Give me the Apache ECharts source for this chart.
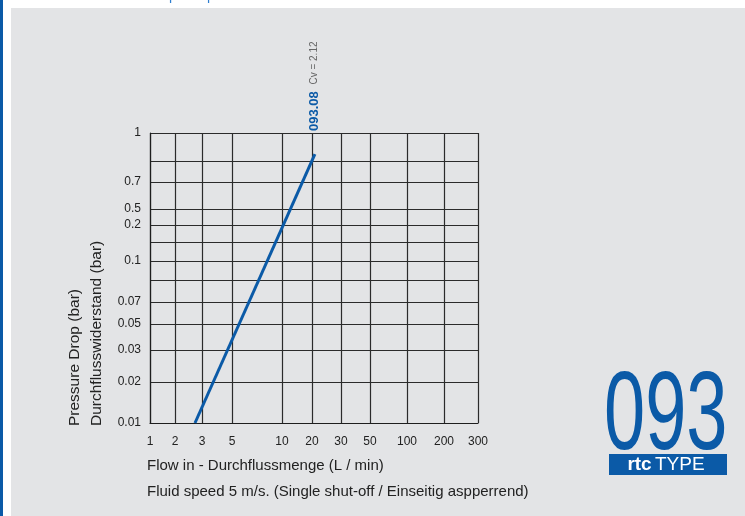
<!DOCTYPE html>
<html>
<head>
<meta charset="utf-8">
<script src="https://cdn.jsdelivr.net/npm/echarts@6/dist/echarts.min.js"></script>
<style>
html,body{margin:0;padding:0;background:#fff;}
#c{width:745px;height:516px;}
</style>
</head>
<body>
<div id="c"></div>
<script>
// Tick labels and their positions along each (irregularly spaced) axis
const xTickLabels = ['1','2','3','5','10','20','30','50','100','200','300'];
const xTickPos = [0,25,52,82,132,162,191,220,257,294,328];
const yTickLabels = ['0.01','0.02','0.03','0.05','0.07','0.1','0.2','0.5','0.7','1'];
const yTickPos = [0,41,73,99,121,162,198,214,241,290];
const yExtraGridPos = [143,181,262];

// Series 093.08 (Cv = 2.12): flow (L/min) vs pressure drop (bar)
const flow = [2.74, 21];
const pressureDrop = [0.01, 0.87];

const BLUE = '#0b5aa7';

function interp(v, labels, pos) {
  const vals = labels.map(Number);
  for (let i = 0; i < vals.length - 1; i++) {
    if (v >= vals[i] && v <= vals[i + 1]) {
      return pos[i] + (v - vals[i]) / (vals[i + 1] - vals[i]) * (pos[i + 1] - pos[i]);
    }
  }
  return v < vals[0] ? pos[0] : pos[pos.length - 1];
}
function labelAt(p, labels, pos) {
  const i = pos.indexOf(p);
  return i >= 0 ? labels[i] : '';
}

const lineData = flow.map((f, i) => [
  interp(f, xTickLabels, xTickPos),
  interp(pressureDrop[i], yTickLabels, yTickPos)
]);

const yAllGrid = yTickPos.concat(yExtraGridPos).sort((a, b) => a - b);

const chart = echarts.init(document.getElementById('c'), null, {renderer: 'canvas'});
chart.setOption({
  animation: false,
  backgroundColor: '#ffffff',
  grid: {left: 150, top: 133, width: 328, height: 290, show: false},
  xAxis: {
    type: 'value', min: 0, max: xTickPos[xTickPos.length - 1],
    axisLine: {show: true, onZero: false, lineStyle: {color: '#1e1e1e', width: 1.2}},
    axisTick: {show: false, customValues: xTickPos},
    splitLine: {show: true, lineStyle: {color: '#2b2b2b', width: 1.2}},
    axisLabel: {
      customValues: xTickPos, showMinLabel: true, showMaxLabel: true,
      color: '#222', fontSize: 12, fontFamily: 'Liberation Sans', margin: 13,
      formatter: v => labelAt(v, xTickLabels, xTickPos)
    }
  },
  yAxis: {
    type: 'value', min: 0, max: yTickPos[yTickPos.length - 1],
    axisLine: {show: true, onZero: false, lineStyle: {color: '#1e1e1e', width: 1.2}},
    axisTick: {show: false, customValues: yAllGrid},
    splitLine: {show: true, lineStyle: {color: '#2b2b2b', width: 1.2}},
    axisLabel: {
      customValues: yTickPos, showMinLabel: true, showMaxLabel: true,
      color: '#222', fontSize: 12, fontFamily: 'Liberation Sans', margin: 9,
      formatter: v => labelAt(v, yTickLabels, yTickPos)
    }
  },
  series: [{
    type: 'line', data: lineData, showSymbol: false, symbol: 'none',
    lineStyle: {color: BLUE, width: 3}, z: 5
  }],
  graphic: [
    {type: 'rect', z: -10, shape: {x: 11, y: 8, width: 734, height: 508}, style: {fill: '#e3e4e6'}},
    {type: 'rect', z: -10, shape: {x: 0, y: 0, width: 3, height: 516}, style: {fill: BLUE}},
    {type: 'text', x: 169, y: 3, style: {text: 'p', fontSize: 14, fill: '#2f7fd0', verticalAlign: 'bottom', fontFamily: 'Liberation Sans'}},
    {type: 'text', x: 207, y: 3, style: {text: 'p', fontSize: 14, fill: '#2f7fd0', verticalAlign: 'bottom', fontFamily: 'Liberation Sans'}},
    {type: 'text', x: 75, y: 426, rotation: Math.PI / 2,
      style: {text: 'Pressure Drop (bar)', fontSize: 15.5, fill: '#222', fontFamily: 'Liberation Sans', textAlign: 'left', verticalAlign: 'middle'}},
    {type: 'text', x: 97, y: 426, rotation: Math.PI / 2,
      style: {text: 'Durchflusswiderstand (bar)', fontSize: 15.5, fill: '#222', fontFamily: 'Liberation Sans', textAlign: 'left', verticalAlign: 'middle'}},
    {type: 'text', x: 314, y: 131, rotation: Math.PI / 2,
      style: {text: '{a|093.08}  {b|Cv = 2.12}', textAlign: 'left', verticalAlign: 'middle',
        rich: {a: {fontSize: 13, fontWeight: 'bold', fill: BLUE, fontFamily: 'Liberation Sans'},
               b: {fontSize: 10, fill: '#666', fontFamily: 'Liberation Sans'}}}},
    {type: 'text', x: 147, y: 466,
      style: {text: 'Flow in - Durchflussmenge (L / min)', fontSize: 15, fill: '#222', fontFamily: 'Liberation Sans', verticalAlign: 'middle'}},
    {type: 'text', x: 147, y: 492,
      style: {text: 'Fluid speed 5 m/s. (Single shut-off / Einseitig aspperrend)', fontSize: 15, fill: '#222', fontFamily: 'Liberation Sans', verticalAlign: 'middle'}},
    {type: 'text', x: 604, y: 363, scaleY: 1.5,
      style: {text: '093', fontSize: 74, fill: BLUE, fontFamily: 'Liberation Sans', verticalAlign: 'top'}},
    {type: 'rect', shape: {x: 609, y: 454, width: 118, height: 21}, style: {fill: BLUE}},
    {type: 'text', x: 666, y: 465,
      style: {text: '{r|rtc} {t|TYPE}', textAlign: 'center', verticalAlign: 'middle',
        rich: {r: {fontSize: 19, fontWeight: 'bold', fill: '#fff', fontFamily: 'Liberation Sans'},
               t: {fontSize: 19, fill: '#fff', fontFamily: 'Liberation Sans'}}}}
  ]
});
</script>
</body>
</html>
